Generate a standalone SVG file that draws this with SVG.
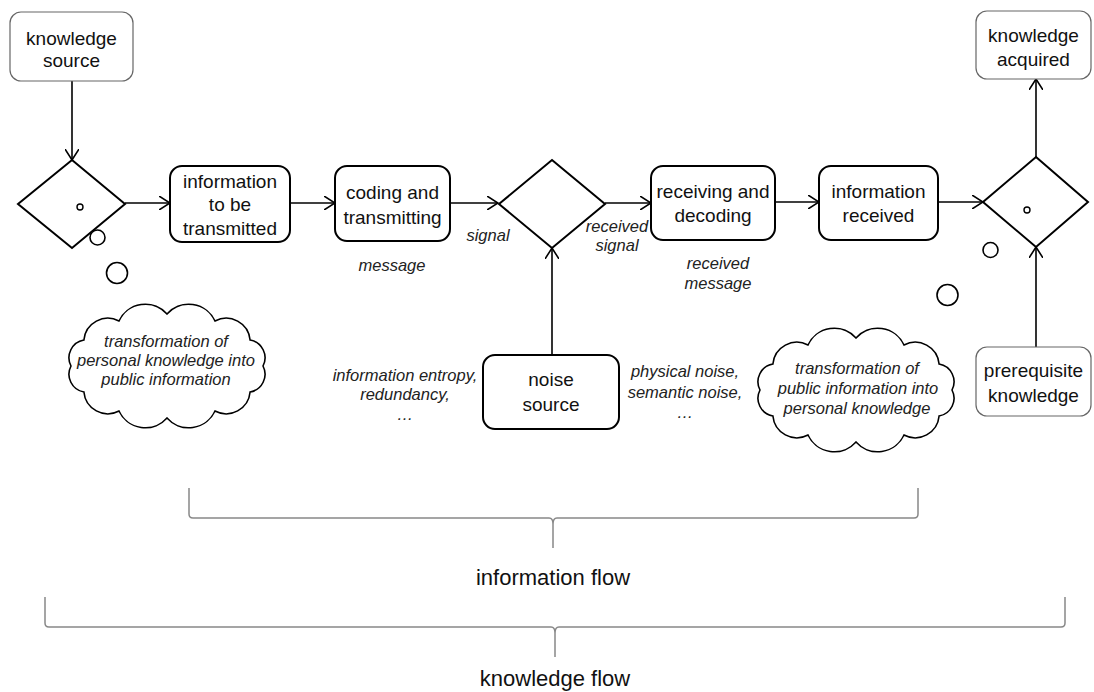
<svg xmlns="http://www.w3.org/2000/svg" width="1094" height="692" viewBox="0 0 1094 692">
<style>
  .box{fill:#fff;stroke:#000;stroke-width:2}
  .tbox{fill:#fff;stroke:#666;stroke-width:1.2}
  .dia{fill:#fff;stroke:#000;stroke-width:2}
  .nt{font-family:"Liberation Sans",Arial,sans-serif;font-size:19px;fill:#111;text-anchor:middle}
  .lb{font-family:"Liberation Sans",Arial,sans-serif;font-size:16.5px;font-style:italic;fill:#222;text-anchor:middle}
  .big{font-family:"Liberation Sans",Arial,sans-serif;font-size:22px;fill:#111;text-anchor:middle}
  .con{fill:none;stroke:#000;stroke-width:1.6}
  .bub{fill:#fff;stroke:#000;stroke-width:1.6}
  .brk{fill:none;stroke:#888;stroke-width:1.5}
  .cloud{fill:#fff;stroke:#000;stroke-width:1.6}
</style>
<defs>
  <marker id="arr" markerUnits="userSpaceOnUse" viewBox="0 0 12 14" refX="11" refY="7" markerWidth="12" markerHeight="14" orient="auto">
    <path d="M0,0 L11,7 L0,14" fill="none" stroke="#000" stroke-width="1.6"/>
  </marker>
  <path id="cloudShape" d="M263,366 A18,18 0 0 1 250.1,392 A24,24 0 0 1 215,411 A29,29 0 0 1 167,418 A29,29 0 0 1 119,411 A24,24 0 0 1 83.9,392 A18,18 0 0 1 71,366 A18,18 0 0 1 83.9,340 A24,24 0 0 1 119,321 A29,29 0 0 1 167,314 A29,29 0 0 1 215,321 A24,24 0 0 1 250.1,340 A18,18 0 0 1 263,366 Z"/>
</defs>

<g id="connectors">
  <line class="con" x1="72" y1="81" x2="72" y2="160" marker-end="url(#arr)"/>
  <line class="con" x1="125" y1="203" x2="170" y2="203" marker-end="url(#arr)"/>
  <line class="con" x1="290" y1="203" x2="335" y2="203" marker-end="url(#arr)"/>
  <line class="con" x1="450" y1="203" x2="498" y2="203" marker-end="url(#arr)"/>
  <line class="con" x1="605" y1="203" x2="651" y2="203" marker-end="url(#arr)"/>
  <line class="con" x1="775" y1="202" x2="819" y2="202" marker-end="url(#arr)"/>
  <line class="con" x1="938" y1="202" x2="983" y2="202" marker-end="url(#arr)"/>
  <line class="con" x1="552" y1="355" x2="552" y2="248" marker-end="url(#arr)"/>
  <line class="con" x1="1036" y1="157" x2="1036" y2="79" marker-end="url(#arr)"/>
  <line class="con" x1="1036" y1="347" x2="1036" y2="247" marker-end="url(#arr)"/>
</g>

<g id="knowledge-source">
  <rect class="tbox" x="10" y="12" width="123" height="69" rx="11"/>
  <text class="nt" x="71.5" y="45">knowledge</text>
  <text class="nt" x="71.5" y="67">source</text>
</g>

<g id="decision-1">
  <polygon class="dia" points="72,160 125,204 72,248 18,204"/>
  <circle cx="80" cy="207" r="3" fill="#fff" stroke="#000" stroke-width="1.4"/>
</g>
<g id="bubbles-1">
  <circle class="bub" cx="97.5" cy="237.5" r="7.5"/>
  <circle class="bub" cx="117" cy="273" r="10.5"/>
</g>

<g id="info-to-be-transmitted">
  <rect class="box" x="170" y="166" width="120" height="76" rx="12"/>
  <text class="nt" x="230" y="188">information</text>
  <text class="nt" x="230" y="211">to be</text>
  <text class="nt" x="230" y="235">transmitted</text>
</g>

<g id="coding">
  <rect class="box" x="335" y="166" width="115" height="75" rx="12"/>
  <text class="nt" x="392.5" y="199">coding  and</text>
  <text class="nt" x="392.5" y="224">transmitting</text>
</g>

<g id="decision-2">
  <polygon class="dia" points="552,160 605,204 552,248 499,204"/>
</g>

<g id="receiving">
  <rect class="box" x="651" y="166" width="124" height="74" rx="12"/>
  <text class="nt" x="713" y="198">receiving and</text>
  <text class="nt" x="713" y="222">decoding</text>
</g>

<g id="info-received">
  <rect class="box" x="819" y="166" width="119" height="74" rx="12"/>
  <text class="nt" x="878.5" y="198">information</text>
  <text class="nt" x="878.5" y="222">received</text>
</g>

<g id="decision-3">
  <polygon class="dia" points="1036,157 1088,202 1036,247 983,202"/>
  <circle cx="1027" cy="210" r="3" fill="#fff" stroke="#000" stroke-width="1.4"/>
</g>
<g id="bubbles-2">
  <circle class="bub" cx="990.5" cy="250" r="7.5"/>
  <circle class="bub" cx="947.5" cy="295" r="10.5"/>
</g>

<g id="knowledge-acquired">
  <rect class="tbox" x="976" y="11" width="115" height="68" rx="11"/>
  <text class="nt" x="1033.5" y="42">knowledge</text>
  <text class="nt" x="1033.5" y="66">acquired</text>
</g>

<g id="noise-source">
  <rect class="box" x="483" y="355" width="136" height="74" rx="12"/>
  <text class="nt" x="551" y="386">noise</text>
  <text class="nt" x="551" y="411">source</text>
</g>

<g id="prerequisite-knowledge">
  <rect class="tbox" x="976" y="347" width="115" height="69" rx="11"/>
  <text class="nt" x="1033.5" y="377">prerequisite</text>
  <text class="nt" x="1033.5" y="402">knowledge</text>
</g>

<g id="cloud-1">
  <use href="#cloudShape" class="cloud"/>
  <text class="lb" x="166" y="347">transformation of</text>
  <text class="lb" x="166" y="366">personal knowledge into</text>
  <text class="lb" x="166" y="385">public information</text>
</g>

<g id="cloud-2">
  <use href="#cloudShape" class="cloud" transform="translate(689,24)"/>
  <text class="lb" x="857" y="374">transformation of</text>
  <text class="lb" x="858" y="394">public information into</text>
  <text class="lb" x="857" y="414">personal knowledge</text>
</g>

<g id="labels">
  <text class="lb" x="392" y="271">message</text>
  <text class="lb" x="488" y="241">signal</text>
  <text class="lb" x="617" y="232">received</text>
  <text class="lb" x="617" y="251">signal</text>
  <text class="lb" x="718" y="269">received</text>
  <text class="lb" x="718" y="289">message</text>
  <text class="lb" x="405" y="381">information entropy,</text>
  <text class="lb" x="405" y="400">redundancy,</text>
  <text class="lb" x="405" y="420">…</text>
  <text class="lb" x="685" y="377">physical noise,</text>
  <text class="lb" x="685" y="398">semantic noise,</text>
  <text class="lb" x="685" y="418">…</text>
</g>

<g id="information-flow">
  <path class="brk" d="M189,488 V514 Q189,518 193,518 H549 Q553,518 553,524 V548 M553,524 Q553,518 557,518 H914 Q918,518 918,514 V488"/>
  <text class="big" x="553" y="585">information flow</text>
</g>

<g id="knowledge-flow">
  <path class="brk" d="M45,597 V623 Q45,627 49,627 H551 Q555,627 555,633 V657 M555,633 Q555,627 559,627 H1061 Q1065,627 1065,623 V597"/>
  <text class="big" x="555" y="686">knowledge flow</text>
</g>
</svg>
